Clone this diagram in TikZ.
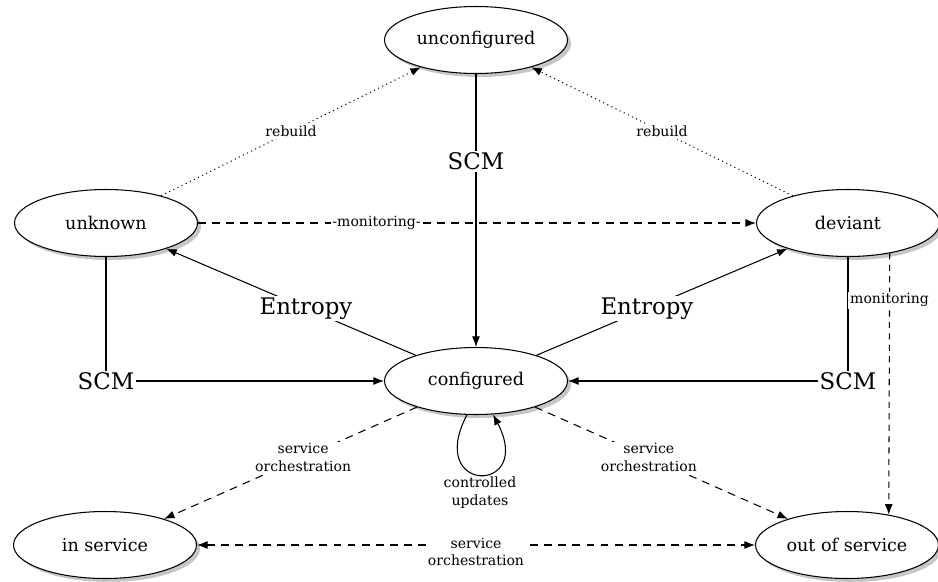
\documentclass[tikz,border=0pt]{standalone}
\usepackage{fontspec}
\setmainfont{DejaVu Serif}
\usepackage{tikz}
\usetikzlibrary{arrows.meta}
\usetikzlibrary{shapes,positioning,calc,shadows}

\begin{document}
\begin{tikzpicture}[x=0.02cm, y=-0.02cm, >={Latex[length=6pt,width=4.5pt]}, line width=0.6pt,
		state/.style={draw, ellipse, fill=white, inner sep=0pt, minimum width=3.66cm, minimum height=1.34cm,
			drop shadow={opacity=0.45, shadow xshift=2pt, shadow yshift=-2pt}, font=\fontsize{10}{12}\selectfont},
		lbl/.style={fill=white, inner sep=1pt, align=center, font=\fontsize{8}{10}\selectfont},
		big/.style={fill=white, inner sep=1pt, font=\fontsize{13}{15}\selectfont},
		dashline/.style={dash pattern=on 4.5pt off 3.5pt}]
		\useasboundingbox (0,0) rectangle (938,582);
		\node[state] (unconf) at (476,40) {unconfigured};
		\node[state] (unknown) at (106,223) {unknown};
		\node[state] (deviant) at (848,223) {deviant};
		\node[state] (conf) at (476,381) {configured};
		\node[state] (inserv) at (105,545) {in service};
		\node[state] (outserv) at (847,545) {out of service};
		
		\draw[->, dotted] (unknown) -- node[lbl] {rebuild} (unconf);
		\draw[->, dotted] (deviant) -- node[lbl] {rebuild} (unconf);
		\draw[->, dashline] (unknown) -- node[lbl, pos=0.32] {-monitoring-} (deviant);
		\draw[->] (unconf) -- node[big, pos=0.32] {SCM} (conf);
		\draw[->] (conf) -- node[big, pos=0.44] {Entropy} (unknown);
		\draw[->] (conf) -- node[big, pos=0.44] {Entropy} (deviant);
		\draw[->] (unknown) |- node[big, pos=0.5] {SCM} (conf);
		\draw[->] (deviant) |- node[big, pos=0.5] {SCM} (conf);
		\draw[->, dash pattern=on 3.5pt off 3pt] (deviant.-36) -- node[lbl, pos=0.18] {monitoring} (outserv.36);
		\draw[->, dashline] (conf) -- node[lbl, pos=0.45] {service\\orchestration} (inserv);
		\draw[->, dashline] (conf) -- node[lbl, pos=0.45] {service\\orchestration} (outserv);
		\draw[<->, dashline] (inserv) -- node[lbl, yshift=-4] {service\\orchestration} (outserv);
		\draw[->] (conf.-105) .. controls +(-42,80) and +(42,80) .. node[lbl, below, fill=none] {controlled\\updates} (conf.-63);
		\end{tikzpicture}
\end{document}
